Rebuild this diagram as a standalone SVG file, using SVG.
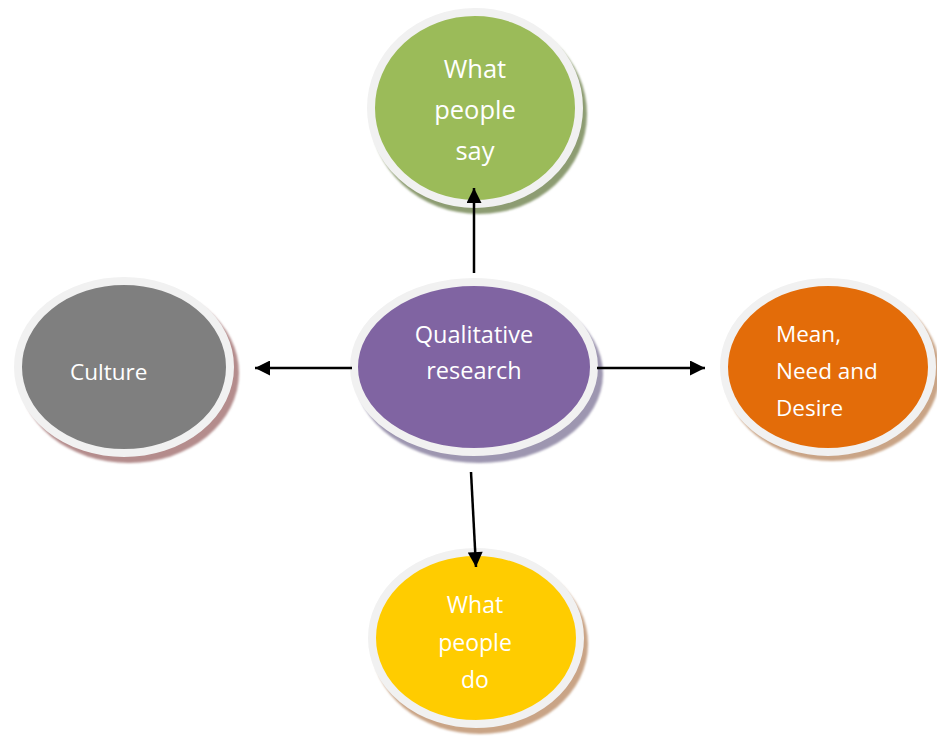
<svg xmlns="http://www.w3.org/2000/svg" width="937" height="738" viewBox="0 0 937 738">
  <defs>
    <style>
      .ring { stroke: #f1f1f1; stroke-width: 8; }
      .label { font-family: "Open Sans", "Liberation Sans", sans-serif; font-size: 22.5px; fill: #ffffff; }
      .mid { text-anchor: middle; }
      .conn { stroke: #000000; stroke-width: 2.5; fill: none; marker-end: url(#head); }
    </style>
    <marker id="head" viewBox="0 0 10 10" refX="10" refY="5" markerWidth="6.4" markerHeight="6" orient="auto" markerUnits="strokeWidth">
      <path d="M0,0 L10,5 L0,10 z" fill="#000000"/>
    </marker>
    <filter id="soft" x="-10%" y="-10%" width="120%" height="120%">
      <feGaussianBlur stdDeviation="1"/>
    </filter>
  </defs>

  <rect width="937" height="738" fill="#ffffff"/>

  <!-- top node -->
  <g id="node-say">
    <ellipse cx="479" cy="114" rx="108" ry="100" fill="#8d9c72" filter="url(#soft)"/>
    <ellipse cx="475" cy="108" rx="104" ry="96" fill="#9bbb59" class="ring"/>
    <text class="label mid" x="475" y="78" style="font-size:25.5px">What</text>
    <text class="label mid" x="475" y="119" style="font-size:25.5px">people</text>
    <text class="label mid" x="475" y="160" style="font-size:25.5px">say</text>
  </g>

  <!-- left node -->
  <g id="node-culture">
    <ellipse cx="129" cy="373" rx="110" ry="90" fill="#b48c8c" filter="url(#soft)"/>
    <ellipse cx="124" cy="367" rx="106" ry="86" fill="#7f7f7f" class="ring"/>
    <text class="label" x="70" y="380">Culture</text>
  </g>

  <!-- centre node -->
  <g id="node-qualitative">
    <ellipse cx="479" cy="374" rx="124" ry="89" fill="#9d96b0" filter="url(#soft)"/>
    <ellipse cx="474" cy="367" rx="120" ry="85" fill="#8064a2" class="ring"/>
    <text class="label mid" x="474" y="343" style="font-size:23.5px">Qualitative</text>
    <text class="label mid" x="474" y="379" style="font-size:23.5px">research</text>
  </g>

  <!-- right node -->
  <g id="node-desire">
    <ellipse cx="832" cy="372" rx="108" ry="89" fill="#c9a486" filter="url(#soft)"/>
    <ellipse cx="828" cy="367" rx="104" ry="85" fill="#e36c09" class="ring"/>
    <text class="label" x="776" y="342">Mean,</text>
    <text class="label" x="776" y="379">Need and</text>
    <text class="label" x="776" y="416">Desire</text>
  </g>

  <!-- bottom node -->
  <g id="node-do">
    <ellipse cx="480" cy="644" rx="108" ry="90" fill="#c9a486" filter="url(#soft)"/>
    <ellipse cx="476" cy="638" rx="104" ry="86" fill="#ffcc00" class="ring"/>
    <text class="label mid" x="475" y="613" style="font-size:23px">What</text>
    <text class="label mid" x="475" y="651" style="font-size:23px">people</text>
    <text class="label mid" x="475" y="688" style="font-size:23px">do</text>
  </g>

  <!-- connectors -->
  <g id="connectors">
    <line class="conn" x1="474" y1="273" x2="474" y2="188"/>
    <line class="conn" x1="352" y1="368" x2="255" y2="368"/>
    <line class="conn" x1="597" y1="368" x2="705" y2="368"/>
    <line class="conn" x1="471" y1="472" x2="476" y2="567"/>
  </g>
</svg>
